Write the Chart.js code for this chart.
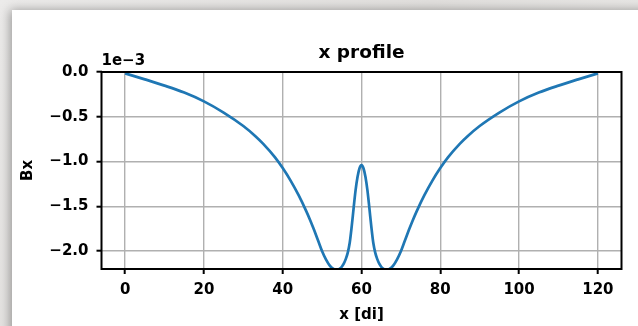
<!DOCTYPE html>
<html>
<head>
<meta charset="utf-8">
<title>x profile</title>
<script src="https://cdn.jsdelivr.net/npm/chart.js@4.4.0/dist/chart.umd.min.js"></script>
<style>
  html, body {
    margin: 0;
    padding: 0;
    width: 638px;
    height: 326px;
    overflow: hidden;
    background: linear-gradient(135deg, #ecebea 0%, #e2e0de 45%, #e9e8e6 70%, #dedcda 100%);
  }
  #card {
    position: absolute;
    left: 12px;
    top: 10px;
    width: 660px;
    height: 340px;
    background: #ffffff;
    box-shadow: -2px 0 10px rgba(0, 0, 0, 0.35);
  }
  #wrap {
    position: absolute;
    left: 0;
    top: 0;
    width: 638px;
    height: 326px;
  }
</style>
</head>
<body>
<div id="card"></div>
<div id="wrap"><canvas id="profile"></canvas></div>

<script>
// Bx along x, in units of 1e-3
const xPos = [0, 5, 10, 15, 20, 25, 30, 33, 35, 38, 40, 42, 44, 46, 47, 48, 49, 50, 51, 52, 53, 53.5, 54, 54.5,
  55, 55.5, 56, 56.5, 57, 57.5, 58, 58.5, 59, 59.5, 60,
  60.5, 61, 61.5, 62, 62.5, 63, 63.5, 64, 64.5, 65, 65.5, 66, 66.5, 67, 68, 69, 70, 71, 72, 73, 74, 76, 78,
  80, 82, 85, 87, 90, 95, 100, 105, 110, 115, 120]
const bx = [-0.015, -0.082, -0.152, -0.230, -0.328, -0.453, -0.603, -0.714, -0.800, -0.951, -1.073, -1.213, -1.373, -1.556, -1.658, -1.768, -1.884, -2.001, -2.095, -2.165, -2.203, -2.210, -2.208, -2.195,
  -2.175, -2.140, -2.090, -2.020, -1.910, -1.730, -1.520, -1.320, -1.170, -1.075, -1.040,
  -1.075, -1.170, -1.320, -1.520, -1.730, -1.910, -2.020, -2.090, -2.140, -2.175, -2.195, -2.208, -2.210, -2.203, -2.165, -2.095, -2.001, -1.884, -1.768, -1.658, -1.556, -1.373, -1.213,
  -1.073, -0.951, -0.800, -0.714, -0.603, -0.453, -0.328, -0.230, -0.152, -0.082, -0.015]

const xTicks = [0, 20, 40, 60, 80, 100, 120]
const yTicks = [0, -0.5, -1.0, -1.5, -2.0]
const yScaleLabel = "1e\u22123"

const FONT = "'DejaVu Sans', sans-serif"

// top/right spines + offset text, matplotlib style
const framePlugin = {
  id: "frame",
  afterDatasetsDraw(chart) {
    const { ctx, chartArea } = chart
    ctx.save()
    ctx.strokeStyle = "#000"
    ctx.lineWidth = 2
    ctx.strokeRect(chartArea.left, chartArea.top, chartArea.right - chartArea.left, chartArea.bottom - chartArea.top)
    ctx.fillStyle = "#000"
    ctx.font = "bold 15px " + FONT
    ctx.textAlign = "left"
    ctx.textBaseline = "alphabetic"
    ctx.fillText(yScaleLabel, chartArea.left, chartArea.top - 7)
    ctx.restore()
  }
}

const fmt = (v) => v.toFixed(1).replace("-", "\u2212")

new Chart(document.getElementById("profile"), {
  type: "line",
  data: {
    datasets: [{
      data: xPos.map((x, i) => ({ x: x, y: bx[i] })),
      borderColor: "#1f77b4",
      borderWidth: 2.7,
      pointRadius: 0,
      cubicInterpolationMode: "monotone",
      fill: false,
      clip: 0,
    }],
  },
  options: {
    responsive: true,
    maintainAspectRatio: false,
    animation: false,
    layout: { padding: { left: 0, right: 16.5, top: 0, bottom: 0 } },
    plugins: {
      legend: { display: false },
      tooltip: { enabled: false },
      title: {
        display: true,
        fullSize: false,  // centre over the plot area, not the canvas
        text: "x profile",
        color: "#000",
        font: { family: FONT, size: 18.5, weight: "bold" },
        padding: { top: 42.4, bottom: 7.4 },
      },
    },
    scales: {
      x: {
        type: "linear",
        min: -6,
        max: 126,
        afterBuildTicks: (scale) => { scale.ticks = xTicks.map((v) => ({ value: v })) },
        afterFit: (scale) => { scale.height = 57 },
        grid: { color: "#b0b0b0", lineWidth: 1.4, tickColor: "#000", tickWidth: 2, tickLength: 5 },
        border: { display: false },
        ticks: {
          color: "#000",
          padding: 7,
          maxRotation: 0,
          font: { family: FONT, size: 15, weight: "bold" },
        },
        title: {
          display: true,
          text: "x [di]",
          color: "#000",
          font: { family: FONT, size: 15, weight: "bold" },
          padding: { top: 0, bottom: 2 },
        },
      },
      y: {
        type: "linear",
        min: -2.2,
        max: 0,
        afterBuildTicks: (scale) => { scale.ticks = yTicks.map((v) => ({ value: v })) },
        afterFit: (scale) => { scale.width = 101.5 },
        grid: { color: "#b0b0b0", lineWidth: 1.4, tickColor: "#000", tickWidth: 2, tickLength: 5 },
        border: { display: false },
        ticks: {
          color: "#000",
          padding: 8,
          font: { family: FONT, size: 15, weight: "bold" },
          callback: (v) => fmt(v),
        },
        title: {
          display: true,
          text: "Bx",
          color: "#000",
          font: { family: FONT, size: 15, weight: "bold" },
          padding: { top: 19, bottom: 0 },
        },
      },
    },
  },
  plugins: [framePlugin],
})
</script>
</body>
</html>
